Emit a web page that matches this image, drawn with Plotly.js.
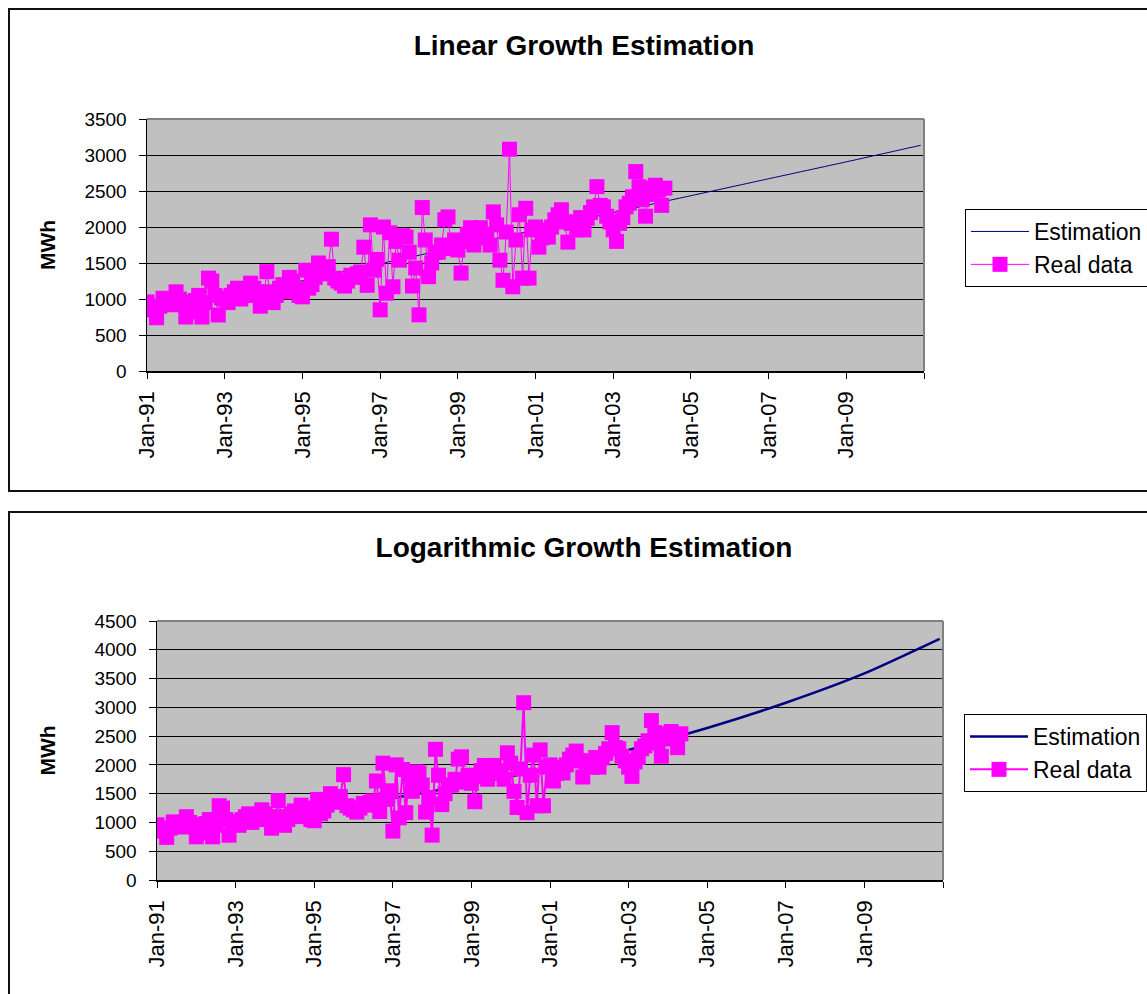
<!DOCTYPE html>
<html>
<head>
<meta charset="utf-8">
<script src="https://cdn.plot.ly/plotly-3.0.1.min.js"></script>
<style>
html,body{margin:0;padding:0;background:#fff;width:1147px;height:994px;overflow:hidden;position:relative;}
.frame{position:absolute;border:2px solid #111;box-sizing:border-box;}
#f1{left:8px;top:8px;width:1170px;height:484px;}
#f2{left:8px;top:511px;width:1170px;height:500px;}
#c1{position:absolute;left:0;top:0;width:1147px;height:500px;}
#c2{position:absolute;left:0;top:500px;width:1147px;height:494px;}
</style>
</head>
<body>
<div class="frame" id="f1"></div>
<div class="frame" id="f2"></div>
<div id="c1"></div>
<div id="c2"></div>
<script>
// ---- data (monthly real consumption, MWh, from Jan-91) ----
const dataStart = [1991, 1];
const realMWh = [
  960, 900, 850, 740, 900, 1010, 980, 960, 920, 1100, 1000, 960,      // 1991
  750, 820, 950, 980, 1050, 750, 950, 1290, 1250, 1050, 778, 1014,    // 1992
  1000, 950, 1050, 1100, 1150, 1000, 1100, 1050, 1220, 1150, 1100, 900, // 1993
  1000, 1380, 1100, 950, 1050, 1150, 1200, 1100, 1300, 1250, 1150, 1050, // 1994
  1030, 1400, 1150, 1200, 1300, 1500, 1400, 1350, 1450, 1830, 1290, 1250, // 1995
  1220, 1180, 1250, 1330, 1300, 1350, 1375, 1720, 1190, 2030, 1400, 1550, // 1996
  850, 2000, 1080, 1920, 1170, 1800, 1540, 1880, 1860, 1650, 1180, 1430,  // 1997
  780, 2270, 1820, 1310, 1500, 1650, 1650, 1750, 2100, 2140, 1700, 1820,  // 1998
  1680, 1360, 1800, 1900, 1990, 1750, 1850, 1990, 1850, 1900, 1750, 2210, // 1999
  2030, 1540, 1260, 1930, 3080, 1170, 1820, 2170, 1290, 2260, 1290, 1960, // 2000
  2000, 1720, 1850, 1960, 1860, 2000, 2100, 2170, 2240, 2070, 1790, 2050, // 2001
  2070, 1960, 2130, 1960, 2120, 2200, 2280, 2560, 2300, 2280, 2150, 2070, // 2002
  1960, 1800, 2050, 2130, 2280, 2330, 2420, 2770, 2560, 2380, 2150, 2450, // 2003
  2540, 2580, 2510, 2300, 2540                                            // 2004
];

// ---- estimation curves, read at each two-year mark ----
const estDates = ['1991-01-01','1993-01-01','1995-01-01','1997-01-01','1999-01-01',
  '2001-01-01','2003-01-01','2005-01-01','2007-01-01','2009-01-01','2010-12-01'];
const linearEst = [785, 1020, 1255, 1490, 1725, 1960, 2200, 2435, 2670, 2905, 3135];
const logEst    = [900, 1050, 1225, 1425, 1665, 1940, 2260, 2640, 3080, 3590, 4190];

// ---- axis ticks ----
const tickDates = ['1991-01-01','1993-01-01','1995-01-01','1997-01-01','1999-01-01',
  '2001-01-01','2003-01-01','2005-01-01','2007-01-01','2009-01-01','2011-01-01'];
const tickLabels = ['Jan-91','Jan-93','Jan-95','Jan-97','Jan-99',
  'Jan-01','Jan-03','Jan-05','Jan-07','Jan-09',''];

const seriesNames = ['Estimation', 'Real data'];
const titles = ['Linear Growth Estimation', 'Logarithmic Growth Estimation'];
const yTitle = 'MWh';

// month category dates for real data
const realDates = realMWh.map((_, i) => {
  const m0 = dataStart[1] - 1 + i;
  const y = dataStart[0] + Math.floor(m0 / 12);
  const m = (m0 % 12) + 1;
  return y + '-' + String(m).padStart(2, '0') + '-01';
});

const FONT = 'Liberation Sans, Arial, Helvetica, sans-serif';

function build(divId, est, yMax, W, H, plotL, plotR, plotT, plotB, lineW, legX, legY, titleY) {
  const traces = [
    {x: estDates, y: est, name: seriesNames[0], type: 'scatter', mode: 'lines',
     line: {color: '#000080', width: lineW[0], shape: 'spline', smoothing: 0.6}},
    {x: realDates, y: realMWh, name: seriesNames[1], type: 'scatter', mode: 'lines+markers',
     line: {color: '#FF00FF', width: lineW[1]},
     marker: {symbol: 'square', size: 15, color: '#FF00FF', line: {width: 0}}}
  ];
  const layout = {
    width: W, height: H,
    margin: {l: plotL, r: W - plotR, t: plotT, b: H - plotB, autoexpand: false},
    paper_bgcolor: 'rgba(0,0,0,0)',
    plot_bgcolor: '#C0C0C0',
    font: {family: FONT, color: '#000'},
    showlegend: true,
    title: {text: '<b>' + titles[divId === 'c1' ? 0 : 1] + '</b>', font: {size: 28, family: FONT, color: '#000'},
            xref: 'container', yref: 'container', x: 584 / W, xanchor: 'center', y: titleY, yanchor: 'middle'},
    xaxis: {type: 'date', range: ['1991-01-01', '2011-01-01'],
            tickmode: 'array', tickvals: tickDates, ticktext: tickLabels,
            tickangle: -90, ticks: 'outside', ticklen: 6, tickwidth: 1, tickcolor: '#000',
            ticklabelstandoff: 4,
            showline: true, linecolor: '#000', linewidth: 1.5, showgrid: false, zeroline: false,
            tickfont: {size: 22, family: FONT, color: '#000'}, fixedrange: true},
    yaxis: {range: [0, yMax], tick0: 0, dtick: 500, ticks: 'outside', ticklen: 7, tickwidth: 1, tickcolor: '#000',
            ticklabelstandoff: 8,
            showline: true, linecolor: '#000', linewidth: 1.5, showgrid: true, gridcolor: '#000', gridwidth: 1,
            zeroline: false, tickfont: {size: 19, family: FONT, color: '#000'}, fixedrange: true},
    legend: {x: legX, y: legY, xanchor: 'left', yanchor: 'top', bgcolor: '#fff',
             bordercolor: '#000', borderwidth: 1, font: {size: 23, family: FONT, color: '#000'},
             itemwidth: 58, tracegroupgap: 0},
    shapes: [
      {type: 'line', xref: 'paper', yref: 'paper', x0: 0, x1: 1, y0: 1, y1: 1, line: {color: '#808080', width: 2}},
      {type: 'line', xref: 'paper', yref: 'paper', x0: 1, x1: 1, y0: 0, y1: 1, line: {color: '#808080', width: 2}}
    ],
    annotations: [
      {text: '<b>' + yTitle + '</b>', xref: 'paper', yref: 'paper',
       x: (47 - plotL) / (plotR - plotL), y: 0.5, xanchor: 'center', yanchor: 'middle',
       textangle: -90, showarrow: false, font: {size: 21, family: FONT, color: '#000'}}
    ]
  };
  Plotly.newPlot(divId, traces, layout, {staticPlot: true, displayModeBar: false});
}

build('c1', linearEst, 3500, 1147, 500, 147, 924, 119, 371, [1, 1],
      (965 - 147) / (924 - 147), 1 - (209 - 119) / (371 - 119), 1 - 45 / 500);
build('c2', logEst, 4500, 1147, 494, 157, 943, 121, 380, [2.5, 2],
      (964 - 157) / (943 - 157), 1 - (214 - 121) / (380 - 121), 1 - 47 / 494);
</script>
</body>
</html>
